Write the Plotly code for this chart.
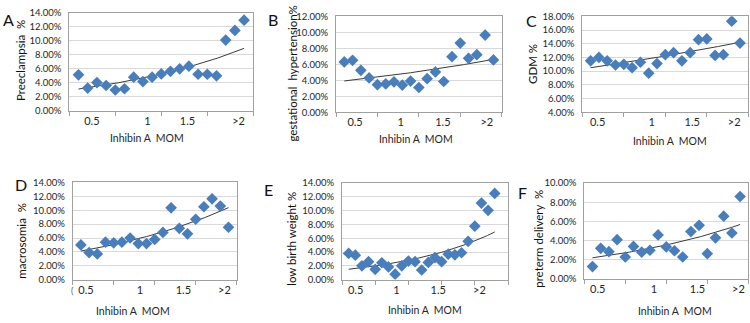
import numpy as np
import plotly.graph_objects as go

W, H = 750, 323

# ---------------- data ----------------
preeclampsia = [5.13, 3.23, 4.02, 3.60, 2.96, 3.14, 4.80, 4.16, 4.80, 5.27,
                5.64, 6.00, 6.37, 5.22, 5.22, 4.99, 10.12, 11.50, 12.98]
gest_hypertension = [6.3, 6.5, 5.25, 4.3, 3.45, 3.55, 3.8, 3.4, 3.9, 3.1,
                     4.2, 5.05, 3.85, 6.95, 8.65, 6.75, 7.2, 9.65, 6.55]
gdm = [11.5, 12.0, 11.5, 10.9, 11.0, 10.5, 11.3, 9.7, 11.1, 12.4,
       12.7, 11.5, 12.7, 14.6, 14.7, 12.3, 12.4, 17.3, 14.1]
macrosomia = [5.0, 3.9, 3.7, 5.4, 5.3, 5.4, 6.0, 5.2, 5.2, 5.8,
              6.8, 10.35, 7.4, 6.6, 8.7, 10.5, 11.65, 10.6, 7.55]
low_birth_weight = [3.8, 3.55, 2.0, 2.6, 1.5, 2.45, 1.85, 0.8, 2.0, 2.7,
                    2.6, 1.4, 2.5, 3.2, 2.6, 3.7, 3.6, 3.9, 5.55, 7.75,
                    11.1, 10.05, 12.5]
preterm = [1.3, 3.2, 2.85, 4.1, 2.3, 3.4, 2.8, 3.0, 4.6, 3.35,
           2.95, 2.3, 4.95, 5.6, 2.65, 4.3, 6.55, 4.8, 8.6]

tick_text = ["0.5", "1", "1.5", ">2"]
x_title = "Inhibin A  MOM"

# ---------------- panel definitions ----------------
panels = [
    dict(letter="A", ytitle="Preeclampsia  %", data=preeclampsia, yr=(0, 14), xr=20,
         box=(69.3, 7.3, 253.3, 108.3), tv=[2.45, 8.5, 12.85, 18.4],
         let=(8, 14), yt=(20, 57), xt=(147, 137)),
    dict(letter="B", ytitle="gestational  hypertension%", data=gest_hypertension, yr=(0, 12), xr=20,
         box=(336, 10.7, 501.7, 110), tv=[2.3, 7.8, 12.9, 18.2],
         let=(273, 14), yt=(293, 70), xt=(416, 138)),
    dict(letter="C", ytitle="GDM %", data=gdm, yr=(4, 18), xr=20,
         box=(582.3, 10.7, 748.3, 110), tv=[1.85, 8.36, 13.25, 18.3],
         let=(531, 15), yt=(533, 60), xt=(670, 140)),
    dict(letter="D", ytitle="macrosomia  %", data=macrosomia, yr=(0, 14), xr=20,
         box=(72.7, 182.7, 236.7, 283.3), tv=[1.62, 8.2, 13.5, 18.5],
         let=(21, 185), yt=(22, 243), xt=(133, 316)),
    dict(letter="E", ytitle="low birth weight %", data=low_birth_weight, yr=(0, 14), xr=25,
         box=(342, 183.3, 508, 283.3), tv=[2.05, 8.2, 14.5, 20.7],
         let=(268, 190), yt=(292, 241), xt=(425, 315)),
    dict(letter="F", ytitle="preterm delivery  %", data=preterm, yr=(0, 10), xr=20,
         box=(584.3, 183.3, 748.3, 282.7), tv=[1.63, 8.5, 13.8, 18.8],
         let=(522, 193), yt=(539, 241), xt=(675, 316)),
]

FONT = "Lato, 'Open Sans', Arial, sans-serif"
MARKER = "#4A7EBB"
AXIS = "#A0A0A0"
GRID = "#D9D9D9"
TXT = "#262626"

fig = go.Figure()
layout = dict(
    width=W, height=H, margin=dict(l=0, r=0, t=0, b=0),
    paper_bgcolor="white", plot_bgcolor="white", showlegend=False,
    font=dict(family=FONT, color=TXT),
)
annotations = []

def px(x, y):
    return x / W, 1 - y / H

for i, p in enumerate(panels, start=1):
    sfx = "" if i == 1 else str(i)
    xa, ya = "x" + sfx, "y" + sfx
    y = np.array(p["data"], dtype=float)
    x = np.arange(1, len(y) + 1)
    # exponential trendline (least squares on log values, like Excel)
    b, a = np.polyfit(x, np.log(y), 1)
    xt = np.linspace(1, len(y), 100)
    yt = np.exp(a + b * xt)
    fig.add_trace(go.Scatter(x=xt, y=yt, mode="lines", xaxis=xa, yaxis=ya,
                             line=dict(color="#3a3a3a", width=1), hoverinfo="skip"))
    fig.add_trace(go.Scatter(x=x, y=y, mode="markers", xaxis=xa, yaxis=ya,
                             marker=dict(symbol="diamond", size=9, color=MARKER,
                                         line=dict(width=0))))
    x0, y0, x1, y1 = p["box"]
    layout["xaxis" + sfx] = dict(
        domain=[x0 / W, x1 / W], range=[0, p["xr"]], anchor=ya,
        showgrid=False, zeroline=False, showline=True, linecolor=AXIS, linewidth=1,
        mirror=True, tickmode="array", tickvals=p["tv"], ticktext=tick_text,
        ticks="", tickfont=dict(size=11, family=FONT, color=TXT),
        minor=dict(tickmode="linear", tick0=0, dtick=5, ticks="outside",
                   ticklen=4, tickcolor=AXIS, tickwidth=1, showgrid=False),
        fixedrange=True,
    )
    lo, hi = p["yr"]
    layout["yaxis" + sfx] = dict(
        domain=[1 - y1 / H, 1 - y0 / H], range=[lo, hi], anchor=xa,
        dtick=2, tick0=0, tickformat=".2f", ticksuffix="%",
        showgrid=True, gridcolor=GRID, gridwidth=1, zeroline=False,
        showline=True, linecolor=AXIS, linewidth=1, mirror=True,
        ticks="", ticklabelstandoff=5,
        tickfont=dict(size=9.5, family=FONT, color=TXT), fixedrange=True,
    )
    lx, ly = px(*p["let"])
    annotations.append(dict(text=p["letter"], x=lx, y=ly, xref="paper", yref="paper",
                            showarrow=False, xanchor="center", yanchor="middle",
                            font=dict(size=16, family=FONT, color="#111")))
    tx, ty = px(*p["yt"])
    annotations.append(dict(text=p["ytitle"], x=tx, y=ty, xref="paper", yref="paper",
                            showarrow=False, textangle=-90, xanchor="center", yanchor="middle",
                            font=dict(size=11.5, family=FONT, color="#111")))
    mx, my = px(*p["xt"])
    annotations.append(dict(text=x_title, x=mx, y=my, xref="paper", yref="paper",
                            showarrow=False, xanchor="center", yanchor="middle",
                            font=dict(size=10.5, family=FONT, color=TXT)))

# stray clipped label fragment left of panel D's axis
cx, cy = px(72, 295)
annotations.append(dict(text="(", x=cx, y=cy, xref="paper", yref="paper", showarrow=False,
                        xanchor="center", yanchor="middle", font=dict(size=9, family=FONT, color="#666")))

layout["annotations"] = annotations
fig.update_layout(**layout)
fig.write_html("out.html",
               config={"displayModeBar": False, "staticPlot": True},
               post_script="document.body.style.margin='0';document.body.style.padding='0';"
                           "document.documentElement.style.overflow='hidden';")
